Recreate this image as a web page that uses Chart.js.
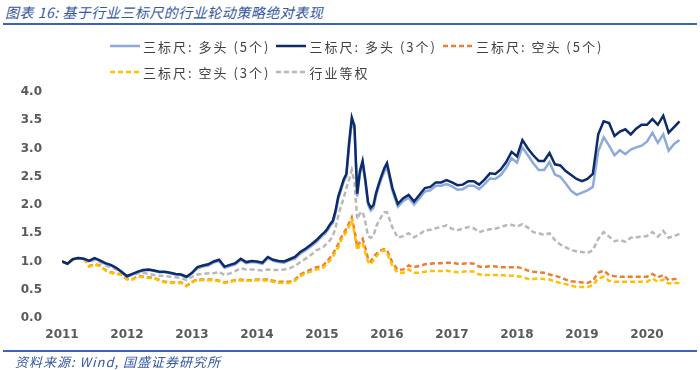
<!DOCTYPE html>
<html>
<head>
<meta charset="utf-8">
<script src="https://cdn.jsdelivr.net/npm/chart.js"></script>
<style>
  body { margin: 0; width: 700px; height: 370px; position: relative; background: #fff; overflow: hidden; }
  #wrap { position: absolute; left: 0; top: 0; width: 700px; height: 370px; }
  .title { position: absolute; left: 5px; top: 2px; font: italic 14px "Noto Sans CJK SC", sans-serif; color: #3557a3; letter-spacing: 0.5px; }
  .rule { position: absolute; left: 3px; width: 694px; height: 2px; background: #3a64b8; }
  .source { position: absolute; left: 15px; top: 352px; font: italic 13px "Noto Sans CJK SC", sans-serif; color: #3557a3; letter-spacing: 1px; }
  #legend { position: absolute; left: 110px; top: 33px; width: 510px; display: flex; flex-wrap: wrap; }
  #legend .item { display: flex; align-items: center; height: 26px; margin-right: 6px; }
  #legend canvas { margin-right: 3px; }
  #legend span { font: 13px "Noto Sans CJK SC", sans-serif; color: #404040; letter-spacing: 2px; }
</style>
</head>
<body>
<div class="title">图表 16: 基于行业三标尺的行业轮动策略绝对表现</div>
<div class="rule" style="top:23px"></div>
<div id="wrap"><canvas id="rotationChart" width="700" height="370"></canvas></div>
<div id="legend"></div>
<div class="rule" style="top:350px"></div>
<div class="source">资料来源: Wind, 国盛证券研究所</div>
<script>
// monthly to end of 2014, half-monthly through 2015 (the spike), monthly from 2016
const dates = [];
for (let m = 0; m < 48; m++) dates.push(2011 + m / 12);
for (let h = 0; h < 24; h++) dates.push(2015 + h / 24);
for (let m = 0; m < 55; m++) dates.push(2016 + m / 12);

const yearTicks = [2011, 2012, 2013, 2014, 2015, 2016, 2017, 2018, 2019, 2020];

const seriesNames = ["三标尺: 多头 (5个)", "三标尺: 多头 (3个)", "三标尺: 空头 (5个)", "三标尺: 空头 (3个)", "行业等权"];

const long5 = [
  1.00, 0.96, 1.04, 1.06, 1.05, 1.01, 1.05, 1.01, 0.96, 0.93, 0.88, 0.81,
  0.73, 0.77, 0.81, 0.84, 0.85, 0.83, 0.81, 0.81, 0.79, 0.77, 0.76, 0.72,
  0.79, 0.88, 0.91, 0.93, 0.98, 1.01, 0.89, 0.92, 0.95, 1.03, 0.97, 0.99,
  0.98, 0.96, 1.06, 1.01, 0.99, 0.98, 1.02, 1.05, 1.14, 1.20, 1.27, 1.35,
  1.45, 1.49, 1.55, 1.63, 1.68, 1.86, 2.11, 2.26, 2.41, 2.51, 3.04, 3.48,
  3.33, 2.15, 2.55, 2.72, 2.40, 2.00, 1.90, 1.95, 2.17, 2.33, 2.47, 2.59,
  2.68, 2.25, 1.97, 2.07, 2.13, 2.01, 2.12, 2.24, 2.26, 2.34, 2.34, 2.37,
  2.33, 2.27, 2.28, 2.34, 2.34, 2.28, 2.37, 2.47, 2.46, 2.53, 2.66, 2.83,
  2.75, 3.02, 2.88, 2.74, 2.62, 2.62, 2.76, 2.54, 2.50, 2.38, 2.25, 2.18,
  2.22, 2.26, 2.32, 2.95, 3.20, 3.05, 2.88, 2.97, 2.90, 2.98, 3.02, 3.05,
  3.12, 3.28, 3.10, 3.25, 2.96, 3.08, 3.15
];

const long3 = [
  1.00, 0.96, 1.04, 1.06, 1.05, 1.01, 1.06, 1.02, 0.97, 0.94, 0.89, 0.82,
  0.74, 0.78, 0.82, 0.85, 0.86, 0.84, 0.82, 0.82, 0.80, 0.78, 0.77, 0.73,
  0.80, 0.90, 0.93, 0.95, 1.00, 1.03, 0.91, 0.94, 0.97, 1.05, 0.99, 1.01,
  1.00, 0.98, 1.08, 1.03, 1.01, 1.00, 1.04, 1.08, 1.17, 1.23, 1.30, 1.38,
  1.48, 1.52, 1.58, 1.66, 1.72, 1.90, 2.15, 2.30, 2.45, 2.55, 3.10, 3.55,
  3.40, 2.20, 2.60, 2.78, 2.45, 2.05, 1.95, 2.00, 2.22, 2.38, 2.52, 2.65,
  2.74, 2.30, 2.02, 2.12, 2.18, 2.06, 2.18, 2.30, 2.32, 2.40, 2.40, 2.44,
  2.40, 2.35, 2.36, 2.42, 2.42, 2.36, 2.45, 2.56, 2.55, 2.63, 2.76, 2.94,
  2.86, 3.15, 3.00, 2.88, 2.78, 2.78, 2.92, 2.72, 2.70, 2.60, 2.53, 2.46,
  2.42, 2.46, 2.55, 3.25, 3.48, 3.45, 3.22, 3.30, 3.34, 3.25, 3.35, 3.42,
  3.42, 3.52, 3.42, 3.58, 3.28, 3.38, 3.48
];

const short5 = [
  1.00, 0.96, 1.04, 1.06, 1.05, 0.92, 0.95, 0.93, 0.85, 0.81, 0.79, 0.77,
  0.69, 0.69, 0.74, 0.73, 0.72, 0.71, 0.67, 0.64, 0.63, 0.63, 0.63, 0.57,
  0.64, 0.68, 0.68, 0.68, 0.68, 0.66, 0.63, 0.65, 0.67, 0.68, 0.67, 0.67,
  0.68, 0.68, 0.68, 0.66, 0.64, 0.64, 0.64, 0.68, 0.77, 0.82, 0.86, 0.90,
  0.91, 0.96, 1.01, 1.07, 1.13, 1.22, 1.31, 1.42, 1.50, 1.58, 1.68, 1.78,
  1.55, 1.26, 1.34, 1.40, 1.24, 1.05, 1.00, 1.08, 1.13, 1.18, 1.20, 1.22,
  1.20, 0.98, 0.85, 0.86, 0.93, 0.90, 0.92, 0.95, 0.96, 0.97, 0.97, 0.98,
  0.98, 0.96, 0.96, 0.97, 0.96, 0.91, 0.90, 0.92, 0.91, 0.90, 0.90, 0.90,
  0.90, 0.88, 0.84, 0.82, 0.81, 0.80, 0.77, 0.75, 0.72, 0.68, 0.65, 0.64,
  0.63, 0.62, 0.66, 0.80, 0.84, 0.76, 0.74, 0.73, 0.73, 0.73, 0.73, 0.73,
  0.73, 0.78, 0.72, 0.76, 0.67, 0.69, 0.69
];

const short3 = [
  1.00, 0.96, 1.04, 1.06, 1.05, 0.91, 0.94, 0.92, 0.84, 0.80, 0.78, 0.76,
  0.68, 0.68, 0.73, 0.72, 0.71, 0.70, 0.66, 0.63, 0.62, 0.62, 0.62, 0.56,
  0.63, 0.67, 0.67, 0.67, 0.67, 0.65, 0.62, 0.64, 0.66, 0.67, 0.66, 0.66,
  0.67, 0.67, 0.66, 0.64, 0.62, 0.62, 0.62, 0.66, 0.74, 0.79, 0.82, 0.86,
  0.87, 0.92, 0.97, 1.02, 1.08, 1.17, 1.25, 1.37, 1.45, 1.52, 1.62, 1.72,
  1.50, 1.20, 1.30, 1.33, 1.15, 1.00, 0.95, 1.02, 1.08, 1.15, 1.18, 1.20,
  1.15, 0.92, 0.80, 0.80, 0.86, 0.80, 0.80, 0.82, 0.83, 0.83, 0.83, 0.84,
  0.82, 0.81, 0.82, 0.83, 0.82, 0.77, 0.76, 0.76, 0.76, 0.76, 0.75, 0.75,
  0.74, 0.73, 0.69, 0.69, 0.70, 0.69, 0.68, 0.65, 0.62, 0.60, 0.57, 0.55,
  0.55, 0.55, 0.58, 0.70, 0.73, 0.66, 0.64, 0.64, 0.64, 0.64, 0.64, 0.64,
  0.64, 0.70, 0.64, 0.68, 0.61, 0.62, 0.62
];

const equalWeight = [
  1.00, 0.96, 1.03, 1.06, 1.04, 0.99, 1.03, 0.99, 0.93, 0.90, 0.86, 0.80,
  0.75, 0.77, 0.79, 0.80, 0.78, 0.76, 0.75, 0.74, 0.73, 0.72, 0.71, 0.67,
  0.73, 0.77, 0.78, 0.79, 0.79, 0.82, 0.76, 0.79, 0.83, 0.88, 0.86, 0.86,
  0.85, 0.84, 0.86, 0.85, 0.85, 0.86, 0.88, 0.92, 0.99, 1.05, 1.12, 1.20,
  1.24, 1.28, 1.33, 1.38, 1.45, 1.60, 1.80, 1.98, 2.12, 2.30, 2.45, 2.62,
  2.40, 1.75, 1.85, 1.88, 1.70, 1.45, 1.42, 1.45, 1.62, 1.72, 1.80, 1.87,
  1.87, 1.60, 1.42, 1.45, 1.50, 1.43, 1.48, 1.55, 1.56, 1.59, 1.61, 1.64,
  1.58, 1.56, 1.58, 1.61, 1.59, 1.52, 1.55, 1.57, 1.58, 1.61, 1.64, 1.65,
  1.62, 1.66, 1.60, 1.52, 1.50, 1.47, 1.50, 1.38, 1.30, 1.25, 1.20, 1.18,
  1.17, 1.15, 1.20, 1.40, 1.52, 1.44, 1.36, 1.38, 1.35, 1.42, 1.43, 1.44,
  1.45, 1.52, 1.44, 1.54, 1.42, 1.45, 1.49
];

document.addEventListener("DOMContentLoaded", function () {
    const ctx = document.getElementById("rotationChart").getContext("2d");
    const tickFont = { family: "'DejaVu Sans', sans-serif", size: 12, weight: 'bold' };

    const chart = new Chart(ctx, {
        type: 'line',
        data: {
            labels: dates,
            datasets: [
                { label: seriesNames[0], data: long5, borderColor: '#8eaadb', borderWidth: 2.5, order: 2 },
                { label: seriesNames[1], data: long3, borderColor: '#0d2a6b', borderWidth: 2.5, order: 1 },
                { label: seriesNames[2], data: short5, borderColor: '#ed7d31', borderWidth: 2.5, borderDash: [5, 3], order: 4 },
                { label: seriesNames[3], data: short3, borderColor: '#ffc000', borderWidth: 2.5, borderDash: [5, 3], order: 3 },
                { label: seriesNames[4], data: equalWeight, borderColor: '#b8b8b8', borderWidth: 2.5, borderDash: [5, 3], order: 5 }
            ]
        },
        options: {
            responsive: false,
            animation: false,
            elements: { point: { radius: 0 }, line: { tension: 0 } },
            layout: { padding: { top: 92, right: 14, left: 0, bottom: 0 } },
            plugins: {
                legend: { display: false },
                tooltip: { enabled: false }
            },
            scales: {
                x: {
                    type: 'linear',
                    min: 2011,
                    max: 2020.6,
                    afterFit: function (scale) { scale.height = 52; },
                    afterBuildTicks: function (scale) {
                        scale.ticks = yearTicks.map(function (v) { return { value: v }; });
                    },
                    grid: { display: false, drawTicks: false },
                    border: { display: false },
                    ticks: {
                        padding: 10,
                        color: '#595959',
                        font: tickFont,
                        maxRotation: 0,
                        callback: function (v) { return String(v); }
                    }
                },
                y: {
                    min: 0,
                    max: 4,
                    afterFit: function (scale) { scale.width = 62; },
                    grid: { display: false, drawTicks: false },
                    border: { display: false },
                    ticks: {
                        stepSize: 0.5,
                        padding: 20,
                        color: '#595959',
                        font: tickFont,
                        callback: function (v) { return v.toFixed(1); }
                    }
                }
            }
        }
    });

    // legend as html so the second row can stay left-aligned
    const legendBox = document.getElementById("legend");
    chart.data.datasets.forEach(function (ds) {
        const item = document.createElement("div");
        item.className = "item";
        const sample = document.createElement("canvas");
        sample.width = 30;
        sample.height = 6;
        const sctx = sample.getContext("2d");
        sctx.strokeStyle = ds.borderColor;
        sctx.lineWidth = 2.5;
        if (ds.borderDash) sctx.setLineDash(ds.borderDash);
        sctx.beginPath();
        sctx.moveTo(0, 3);
        sctx.lineTo(30, 3);
        sctx.stroke();
        const text = document.createElement("span");
        text.textContent = ds.label;
        item.appendChild(sample);
        item.appendChild(text);
        legendBox.appendChild(item);
    });
});
</script>
</body>
</html>
